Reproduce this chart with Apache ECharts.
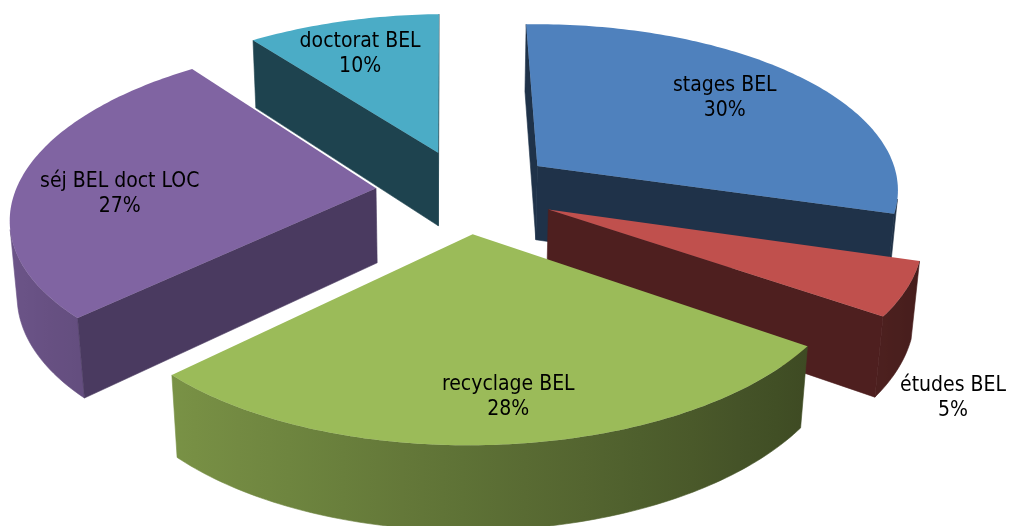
<!DOCTYPE html>
<html><head><meta charset="utf-8">
<script src="https://cdn.jsdelivr.net/npm/echarts@6/dist/echarts.min.js"></script>
<style>html,body{margin:0;padding:0;background:#fff}#c{width:1010px;height:526px}</style>
</head><body><div id="c"></div>
<script>
// ---- data ----
const categories = ['stages BEL', 'études BEL', 'recyclage BEL', 'séj BEL doct LOC', 'doctorat BEL'];
const values = [30, 5, 28, 27, 10];

// ---- style ----
const topColors  = ['#4F81BD', '#C0504D', '#9BBB59', '#8064A2', '#4BACC6'];
const faceColors = ['#1F3249', '#4E1F1F', '#3E4A25', '#4A3A60', '#1E434F'];
const labelOutside = [false, true, false, false, false];
const labelNudge = [[2, -3], [55, 29], [14, 23], [-7.5, 14], [-9, -3]];
const FONT = '21px "DejaVu Sans Condensed", "DejaVu Sans", sans-serif';

// ---- 3D view (pie radius = 1) ----
const VIEW = { cx: 466, cy: 191, f: 2314, D: 6.34, alpha: 27.4 * Math.PI / 180, H: 0.235, explode: 0.25,
               camU: -0.06, tilt: 0.012, kx: 0.993, labelR: 0.7 };
const TAU = Math.PI * 2;
const SA = Math.sin(VIEW.alpha), CA = Math.cos(VIEW.alpha);
const camV = VIEW.D * CA;

function proj(u, y, v) {
  const z = VIEW.D - (y * SA + v * CA);
  const dx = (VIEW.f * (u - VIEW.camU) / z + VIEW.f * VIEW.camU / VIEW.D) * VIEW.kx;
  const dy = -VIEW.f * (y * CA - v * SA) / z;
  return [VIEW.cx + dx, VIEW.cy + dy - VIEW.tilt * dx];
}
function shade(hex, k) {
  const n = parseInt(hex.slice(1), 16);
  const r = Math.round(((n >> 16) & 255) * k), g = Math.round(((n >> 8) & 255) * k), b = Math.round((n & 255) * k);
  return 'rgb(' + r + ',' + g + ',' + b + ')';
}

const total = values.reduce((a, b) => a + b, 0);
const cum = []; let acc = 0; values.forEach(v => { cum.push(acc); acc += v; });
const bis = values.map((v, i) => (cum[i] + v / 2) / total * TAU);
const order = bis.map((b, i) => i).sort((a, b) => (-Math.cos(bis[a])) - (-Math.cos(bis[b])));
const rank = []; order.forEach((idx, r) => { rank[idx] = r; });

function renderItem(params, api) {
  const i = params.dataIndex;
  const val = api.value(0);
  const s = cum[i] / total * TAU, e = (cum[i] + val) / total * TAU, b = (s + e) / 2;
  const Ou = VIEW.explode * Math.sin(b), Ov = -VIEW.explode * Math.cos(b);
  const H = VIEW.H;
  const P = (phi, r, y) => proj(Ou + r * Math.sin(phi), y, Ov - r * Math.cos(phi));
  const z0 = rank[i] * 10;
  const children = [];
  const N = Math.max(8, Math.ceil((e - s) / TAU * 360));

  // outer curved side (visible part only)
  const vis = [];
  for (let k = 0; k <= N; k++) {
    const phi = s + (e - s) * k / N;
    const d = (VIEW.camU - Ou) * Math.sin(phi) - (camV - Ov) * Math.cos(phi) - 1;
    if (d > 0) vis.push(phi);
  }
  if (vis.length > 1) {
    const topPts = vis.map(phi => P(phi, 1, 0));
    const botPts = vis.map(phi => P(phi, 1, -H));
    const pts = topPts.concat(botPts.slice().reverse());
    const xs = pts.map(p => p[0]);
    const minX = Math.min.apply(null, xs), maxX = Math.max.apply(null, xs);
    const stops = [];
    const step = Math.max(1, Math.floor(vis.length / 12));
    const addStop = k => stops.push({ offset: Math.min(1, Math.max(0, (topPts[k][0] - minX) / (maxX - minX || 1))), color: shade(topColors[i], 0.6 - 0.25 * Math.sin(vis[k])) });
    for (let k = 0; k < vis.length; k += step) addStop(k);
    addStop(vis.length - 1);
    stops.sort((a, b) => a.offset - b.offset);
    const fill = { type: 'linear', x: 0, y: 0, x2: 1, y2: 0, global: false, colorStops: stops };
    children.push({ type: 'polygon', z2: z0 + 1, shape: { points: pts }, style: { fill: fill, stroke: fill, lineWidth: 0.6 } });
  }

  // radial faces
  const faceVisible = (phiN) => ((VIEW.camU - Ou) * Math.sin(phiN) + (camV - Ov) * (-Math.cos(phiN))) > 0;
  [[s, s - Math.PI / 2], [e, e + Math.PI / 2]].forEach(([phi, phiN]) => {
    if (faceVisible(phiN)) {
      const pts = [P(phi, 0, 0), P(phi, 1, 0), P(phi, 1, -H), P(phi, 0, -H)];
      children.push({ type: 'polygon', z2: z0 + 2, shape: { points: pts }, style: { fill: faceColors[i], stroke: faceColors[i], lineWidth: 0.6 } });
    }
  });

  // top face
  const topFace = [P(0, 0, 0)];
  for (let k = 0; k <= N; k++) topFace.push(P(s + (e - s) * k / N, 1, 0));
  children.push({ type: 'polygon', z2: z0 + 3, shape: { points: topFace }, style: { fill: topColors[i] } });

  // label
  const anchor = labelOutside[i] ? P(b, 1, -H) : P(b, VIEW.labelR, 0);
  children.push({
    type: 'text', z2: 100,
    style: {
      text: categories[i] + '\n' + Math.round(val / total * 100) + '%',
      x: anchor[0] + labelNudge[i][0], y: anchor[1] + labelNudge[i][1],
      align: 'center', verticalAlign: 'middle', font: FONT, lineHeight: 25, fill: '#000'
    }
  });
  return { type: 'group', children: children };
}

const chart = echarts.init(document.getElementById('c'), null, { renderer: 'canvas', width: 1010, height: 526 });
chart.setOption({
  backgroundColor: '#ffffff',
  animation: false,
  series: [{
    type: 'custom',
    coordinateSystem: 'none',
    renderItem: renderItem,
    data: values.map((v, i) => ({ name: categories[i], value: [v] }))
  }]
});
</script>
</body></html>
